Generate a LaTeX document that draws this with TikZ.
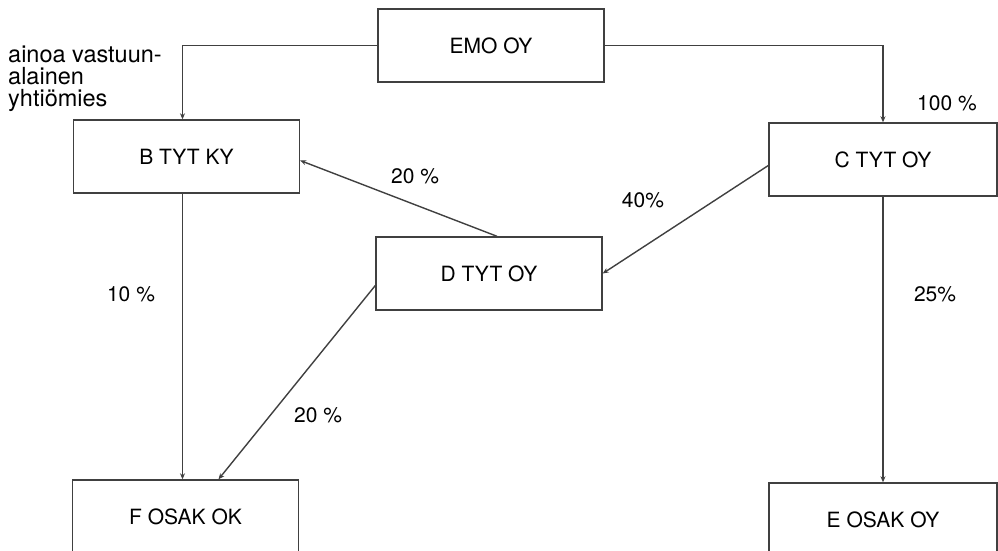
\documentclass[tikz,border=0pt]{standalone}
\usepackage{fontspec}
\setmainfont{TeX Gyre Heros}
\usetikzlibrary{arrows.meta}
\begin{document}
\begin{tikzpicture}[x=1pt, y=-1pt,
				    box/.style={draw=black!75, line width=1.4pt, fill=none,
				    			minimum width=226pt, minimum height=73pt,
				    			text centered, text=black, font=\fontsize{21}{24}\selectfont},
				    pct/.style={text=black, font=\fontsize{21}{24}\selectfont},
				    arr/.style={draw=black!75, line width=1.4pt,
				    			-{Stealth[length=6pt, width=5pt]}}]
	\useasboundingbox (0, 0) rectangle (998, 551);

	\node[box] (emo) at (491, 45.5) {EMO OY};
	\node[box] (b) at (186.5, 156.5) {B TYT KY};
	\node[box, minimum width=228pt] (c) at (883, 159.5) {C TYT OY};
	\node[box] (d) at (489, 273.5) {D TYT OY};
	\node[box] (f) at (185.5, 516.5) {F OSAK OK};
	\node[box, minimum width=228pt] (e) at (883, 519.5) {E OSAK OY};

	\node[align=left, anchor=north west, inner sep=0pt,
		  font=\fontsize{23.5}{22}\selectfont] (note) at (8, 46)
		  {ainoa vastuun-\\alainen\\yhtiömies};
	\node[pct] (p1) at (947, 103) {100 \%};
	\node[pct] (p2) at (643, 200) {40\%};
	\node[pct] (p3) at (415, 176) {20 \%};
	\node[pct] (p4) at (131, 294) {10 \%};
	\node[pct] (p5) at (935, 294) {25\%};
	\node[pct] (p6) at (318, 415) {20 \%};

	\draw[arr] 	(emo.west)  -|   ([xshift=-4pt]b.north);
	\draw[arr] 	(emo.east)  -|   (c.north);
	\draw[arr] 	([yshift=-6pt]c.west)  --   (d.east);
	\draw[arr] 	([xshift=8pt]d.north)  --   ([yshift=-4pt]b.east);
	\draw[arr] 	([xshift=-4pt]b.south)  --   ([xshift=-3pt]f.north);
	\draw[arr] 	([yshift=-12pt]d.west)  --   ([xshift=33pt]f.north);
	\draw[arr] 	(c.south)  --   (e.north);

\end{tikzpicture}
\end{document}
